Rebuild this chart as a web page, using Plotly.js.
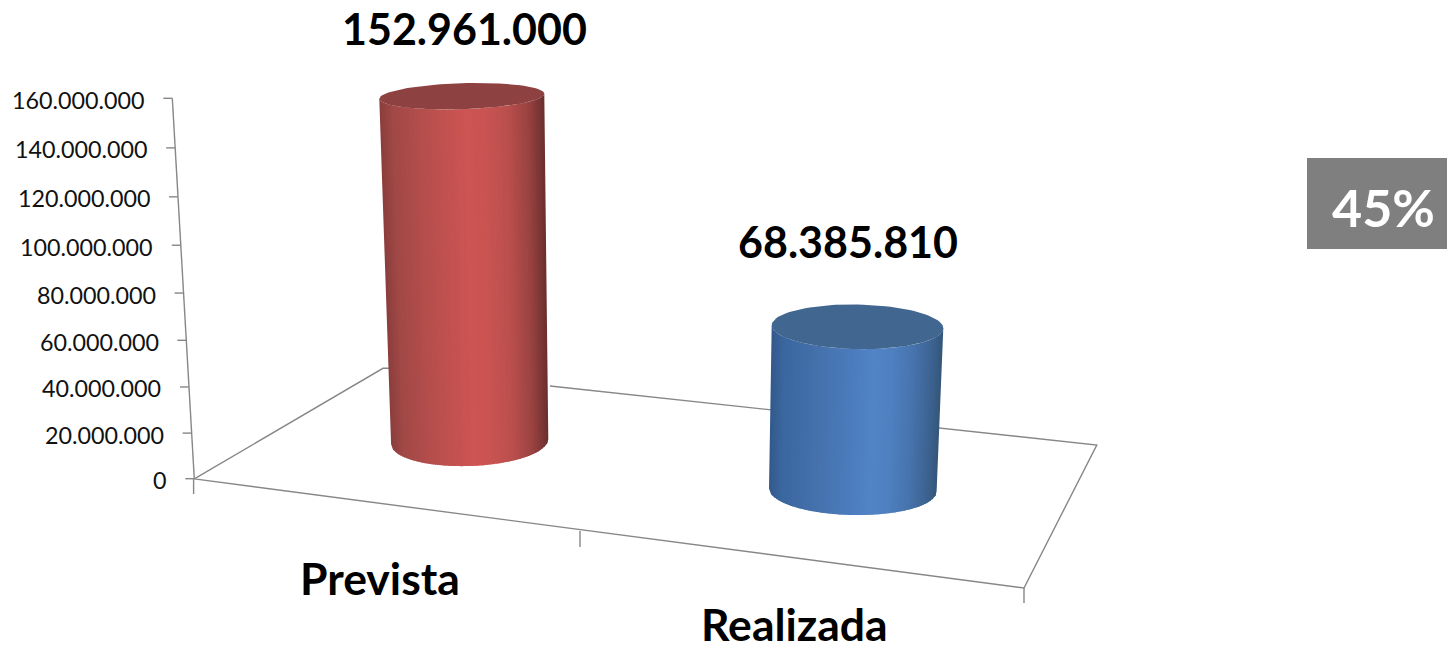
<!DOCTYPE html>
<html><head><meta charset="utf-8">
<script src="https://cdn.plot.ly/plotly-3.0.1.min.js"></script>
<style>html,body{margin:0;padding:0;background:#fff}#c{width:1447px;height:650px}</style>
</head><body><div id="c"></div>
<script>
// ---- data ----
const categories = ['Prevista', 'Realizada'];
const seriesValues = [152961000, 68385810];
const tickValues = [0, 20000000, 40000000, 60000000, 80000000, 100000000, 120000000, 140000000, 160000000];
const percentLabel = '45%';

// ---- style / projection ----
const W = 1447, H = 650, FONT = 'Lato, Carlito, sans-serif';
const AXMAX = 160000000, BASEPX = 478.7, TOPPX = 98.3, PERSP = 0.049;
const perPx = AXMAX / (BASEPX - TOPPX);
const pxY = p => (BASEPX - p) * perPx;            // layout pixel row -> y units
const wall = v => { const s = v / AXMAX; return AXMAX * s / (1 + PERSP * (1 - s)); }; // perspective of the value wall
const fmt = v => String(v).replace(/\B(?=(\d{3})+$)/g, '.');
const lerp = (a, b, t) => a + (b - a) * t;

const cylStyle = [
  {baseCy: 441.7, scale: .952, cxB: 469.7, rxB: 78.6, ryB: 24.3, cxT: 461.8, rxT: 82.5, ryT: 13, tilt: -2.5,
   stops: [[-1,'#8a3d3c'],[-.85,'#a04846'],[-.5,'#b44e4c'],[-.15,'#c45250'],[.05,'#cd5553'],[.25,'#ca5452'],[.55,'#ba4f4d'],[.8,'#9a4341'],[1,'#6a2f2e']], cap: '#8d4140'},
  {baseCy: 490, scale: 1.032, cxB: 852.8, rxB: 83.8, ryB: 25, cxT: 857.5, rxT: 85.8, ryT: 22.3, tilt: 1.5,
   stops: [[-1,'#32598a'],[-.85,'#3b679f'],[-.45,'#4571ac'],[-.05,'#4c7cbd'],[.2,'#5184c6'],[.4,'#4f80c1'],[.65,'#4774ae'],[.88,'#3c6290'],[1,'#345679']], cap: '#41668f'}
];
const hex = c => [1,3,5].map(i => parseInt(c.substr(i,2),16));
function shade(stops, t){
  for (let i = 1; i < stops.length; i++) if (t <= stops[i][0]) {
    const f = (t - stops[i-1][0]) / (stops[i][0] - stops[i-1][0]);
    const a = hex(stops[i-1][1]), b = hex(stops[i][1]);
    return 'rgb(' + a.map((x,k) => Math.round(lerp(x,b[k],f))).join(',') + ')';
  }
  return stops[stops.length-1][1];
}

const traces = [];
const line = (xs, ps, w) => traces.push({type:'scatter', mode:'lines', x:xs, y:ps.map(pxY), hoverinfo:'skip',
  line:{color:'#878787', width:w||1.4}});

// floor frame
line([392,383,194.3,1024,1096.8,550],[368.3,368.3,478.9,588,445,386]);
line([193.6,193.6],[479,494]);
line([580,580],[531,547]);
line([1024,1024],[588,603]);

// value axis wall line and ticks
const axisX = v => 194.3 - 22 * wall(v) / AXMAX;
traces.push({type:'scatter', mode:'lines', x:tickValues.map(axisX), y:tickValues.map(wall), hoverinfo:'skip', line:{color:'#878787', width:1.4}});
tickValues.forEach(v => traces.push({type:'scatter', mode:'lines', x:[axisX(v)-9, axisX(v)], y:[wall(v), wall(v)], hoverinfo:'skip', line:{color:'#878787', width:1.4}}));

// cylinders
const N = 72;
seriesValues.forEach((v, i) => {
  const s = cylStyle[i];
  const baseY = pxY(s.baseCy), topY = baseY + s.scale * wall(v);
  const frontB = t => baseY - (s.ryB * Math.sqrt(Math.max(0,1-t*t)) + s.tilt * t) * perPx;
  const frontT = t => topY  - (s.ryT * Math.sqrt(Math.max(0,1-t*t)) + s.tilt * t) * perPx;
  for (let k = 0; k < N; k++) {
    const t0 = -1 + 2*k/N, t1 = Math.min(1, -1 + 2*(k+1.6)/N), tm = -1 + 2*(k+.5)/N;
    const xb = t => s.cxB + s.rxB*t, xt = t => s.cxT + s.rxT*t;
    const ts = [t0, (t0+t1)/2, t1];
    const xs = ts.map(xb).concat(ts.slice().reverse().map(xt));
    const ys = ts.map(frontB).concat(ts.slice().reverse().map(frontT));
    xs.push(xs[0]); ys.push(ys[0]);
    traces.push({type:'scatter', mode:'lines', x:xs, y:ys, fill:'toself', fillcolor:shade(s.stops,tm), hoverinfo:'skip', line:{width:0, color:shade(s.stops,tm)}});
  }
  const cx = [], cy = [];
  for (let a = 0; a <= 96; a++) {
    const th = a/96*2*Math.PI, c = Math.cos(th);
    cx.push(s.cxT + s.rxT*c);
    cy.push(topY + (s.ryT*Math.sin(th) - s.tilt*c) * perPx);
  }
  traces.push({type:'scatter', mode:'lines', x:cx, y:cy, fill:'toself', fillcolor:s.cap, hoverinfo:'skip', line:{width:0, color:s.cap}});
});

// annotations
const annotations = tickValues.map(v => ({xref:'x', yref:'y', x:axisX(v)-26.5, y:wall(v)-1.5*perPx, xanchor:'right', yanchor:'middle',
  text:fmt(v), showarrow:false, font:{family:FONT, size:23.3, color:'#111'}, borderpad:0}));
const txt = (text, px, py, size, color) => annotations.push({xref:'paper', yref:'paper', x:px/W, y:1-py/H, xanchor:'center', yanchor:'middle',
  text:'<b>'+text+'</b>', showarrow:false, borderpad:0, font:{family:FONT, size:size, color:color||'#000'}});
const valPos = [[464.5,28.5],[847.5,242]], catPos = [[380,577],[794,623]];
seriesValues.forEach((v,i) => txt(fmt(v), valPos[i][0], valPos[i][1], 43));
categories.forEach((c,i) => txt(c, catPos[i][0], catPos[i][1], 44.5));
txt(percentLabel, 1383, 207, 52, '#fff');

const layout = {
  width:W, height:H, autosize:false, showlegend:false, margin:{l:0,r:0,t:0,b:0,pad:0},
  paper_bgcolor:'#fff', plot_bgcolor:'#fff',
  xaxis:{visible:false, range:[0,W], fixedrange:true},
  yaxis:{visible:false, range:[pxY(H), pxY(0)], fixedrange:true},
  shapes:[{type:'rect', xref:'paper', yref:'paper', x0:1307/W, x1:1, y0:1-249/H, y1:1-158/H, fillcolor:'#7f7f7f', line:{width:0}, layer:'below'}],
  annotations
};
Plotly.newPlot('c', traces, layout, {staticPlot:true, displayModeBar:false});
</script></body></html>
